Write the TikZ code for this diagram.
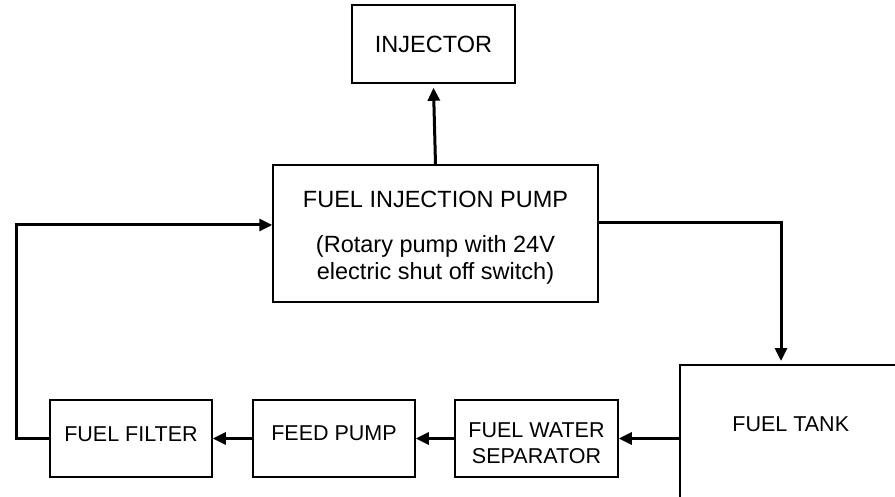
\documentclass[tikz,border=0pt]{standalone}
\usepackage{fontspec}
\setmainfont{Liberation Sans}
\usepackage{tikz}
\usetikzlibrary{calc, arrows.meta}

\begin{document}
\begin{tikzpicture}[x=1pt, y=-1pt,
    blk/.style={draw, line width=1.5pt, align=center, inner sep=0pt, font=\fontsize{21.5}{26}\selectfont},
    flow/.style={line width=3pt, -{Triangle[length=13pt,width=12pt]}}]
  \useasboundingbox (0,0) rectangle (895,497);
  \clip (0,0) rectangle (895,497);
  % boxes
  \node[blk, minimum width=163pt, minimum height=78pt, font=\fontsize{23.5}{28}\selectfont] (inj) at (433.5,44) {INJECTOR};
  \node[blk, minimum width=325pt, minimum height=137pt, text height=97pt, font=\fontsize{23.5}{27}\selectfont] (fip) at (435.5,233.5)
    {FUEL INJECTION PUMP\\[18pt](Rotary pump with 24V\\electric shut off switch)};
  \node[blk, minimum width=162pt, minimum height=77pt, text depth=9pt] (filter) at (131,438.5) {FUEL FILTER};
  \node[blk, minimum width=162pt, minimum height=77pt, text depth=10pt] (feed) at (334,438.5) {FEED PUMP};
  \node[blk, minimum width=163pt, minimum height=77pt, text height=51pt] (sep) at (536.5,438.5) {FUEL WATER\\SEPARATOR};
  \node[blk, anchor=north west, minimum width=222pt, text height=67pt, text depth=100pt] (tank) at (679,364) {FUEL TANK};
  % fuel lines
  \coordinate (lft) at (16,225);
  \coordinate (rgt) at (781,223);
  \draw[flow] (fip.north) -- ($(inj.south)+(0,4)$);
  \draw[flow] (fip.east |- rgt) -- (rgt) -- ($(rgt |- tank.north)+(0,-3)$);
  \draw[flow] (sep.east -| tank.west) -- (sep.east);
  \draw[flow] (sep.west) -- (feed.east);
  \draw[flow] (feed.west) -- (filter.east);
  \draw[flow] (filter.west) -- (filter.west -| lft) -- (lft) -- (lft -| fip.west);
\end{tikzpicture}
\end{document}
